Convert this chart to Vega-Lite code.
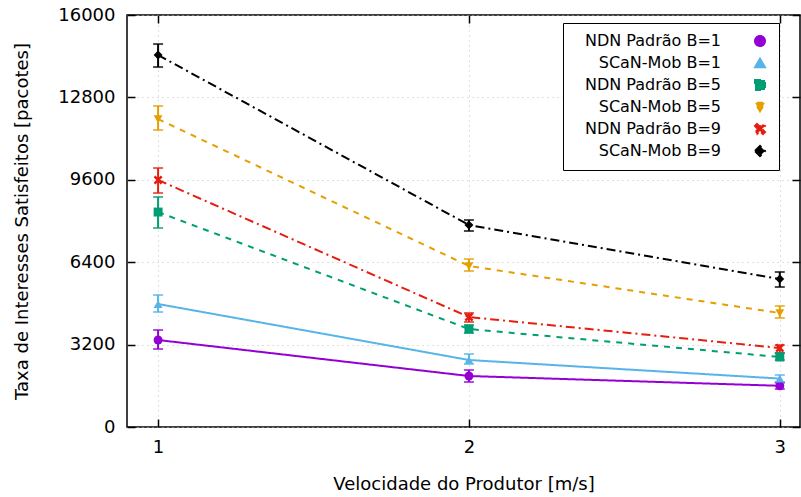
{
  "$schema": "https://vega.github.io/schema/vega-lite/v6.json",
  "width": 673,
  "height": 412,
  "autosize": "none",
  "padding": {"left": 127, "top": 15, "right": 1, "bottom": 70},
  "config": {
    "font": "DejaVu Sans",
    "view": {"stroke": "black", "strokeWidth": 1.5},
    "axis": {
      "labelFont": "DejaVu Sans",
      "titleFont": "DejaVu Sans",
      "labelFontSize": 18,
      "titleFontSize": 18,
      "titleFontWeight": "normal",
      "labelColor": "black",
      "titleColor": "black",
      "domain": false,
      "tickColor": "black",
      "tickWidth": 1.5,
      "tickSize": -8,
      "gridColor": "#c0c0c0",
      "gridDash": [1, 4],
      "gridWidth": 1
    }
  },
  "resolve": {"axis": {"x": "independent", "y": "independent"}},
  "data": {
    "values": [
      {"v": 1, "series": "NDN Padrão B=1", "y": 3378, "lo": 3029, "hi": 3767},
      {"v": 2, "series": "NDN Padrão B=1", "y": 1980, "lo": 1747, "hi": 2213},
      {"v": 3, "series": "NDN Padrão B=1", "y": 1600, "lo": 1476, "hi": 1720},
      {"v": 1, "series": "SCaN-Mob B=1", "y": 4776, "lo": 4465, "hi": 5126},
      {"v": 2, "series": "SCaN-Mob B=1", "y": 2602, "lo": 2446, "hi": 2835},
      {"v": 3, "series": "SCaN-Mob B=1", "y": 1880, "lo": 1747, "hi": 2019},
      {"v": 1, "series": "NDN Padrão B=5", "y": 8348, "lo": 7727, "hi": 8931},
      {"v": 2, "series": "NDN Padrão B=5", "y": 3805, "lo": 3650, "hi": 3961},
      {"v": 3, "series": "NDN Padrão B=5", "y": 2718, "lo": 2602, "hi": 2873},
      {"v": 1, "series": "SCaN-Mob B=5", "y": 11960, "lo": 11533, "hi": 12465},
      {"v": 2, "series": "SCaN-Mob B=5", "y": 6252, "lo": 6057, "hi": 6523},
      {"v": 3, "series": "SCaN-Mob B=5", "y": 4427, "lo": 4233, "hi": 4698},
      {"v": 1, "series": "NDN Padrão B=9", "y": 9591, "lo": 9086, "hi": 10057},
      {"v": 2, "series": "NDN Padrão B=9", "y": 4271, "lo": 4077, "hi": 4427},
      {"v": 3, "series": "NDN Padrão B=9", "y": 3068, "lo": 2873, "hi": 3184},
      {"v": 1, "series": "SCaN-Mob B=9", "y": 14445, "lo": 13979, "hi": 14872},
      {"v": 2, "series": "SCaN-Mob B=9", "y": 7844, "lo": 7611, "hi": 8038},
      {"v": 3, "series": "SCaN-Mob B=9", "y": 5747, "lo": 5436, "hi": 6019}
    ]
  },
  "encoding": {
    "color": {"field": "series", "type": "nominal",
      "scale": {"domain": ["NDN Padrão B=1", "SCaN-Mob B=1", "NDN Padrão B=5", "SCaN-Mob B=5", "NDN Padrão B=9", "SCaN-Mob B=9"],
        "range": ["#9400d3", "#56b4e9", "#009e73", "#e69f00", "#e51e10", "#000000"]},
      "legend": {"title": null, "orient": "none", "legendX": 436, "legendY": 8, "symbolSize": 100, "symbolStrokeWidth": 2,
        "labelAlign": "right", "labelOffset": -47, "symbolOffset": 179, "labelFontSize": 16, "labelFont": "DejaVu Sans", "labelColor": "black",
        "rowPadding": 4, "padding": 10, "strokeColor": "black", "fillColor": "white", "cornerRadius": 0,
        "encode": {"symbols": {"update": {
          "fill": {"scale": "color", "field": "value"},
          "stroke": {"scale": "color", "field": "value"},
          "fillOpacity": {"value": 1},
          "strokeOpacity": {"value": 1},
          "opacity": {"value": 1},
          "strokeWidth": {"value": 2},
          "shape": {"signal": "datum.value == 'NDN Padrão B=1' ? 'M-5.6,-0.2H5.6V0.2H-5.6ZM-1,0A1,1,0,1,1,1,0A1,1,0,1,1,-1,0Z' : datum.value == 'SCaN-Mob B=1' ? 'M-5.6,-0.2H5.6V0.2H-5.6ZM0,-1.2L1.1,0.8L-1.1,0.8Z' : datum.value == 'NDN Padrão B=5' ? 'M-5.4,-0.2H-4.2V0.2H-5.4ZM-3,-0.2H-1.8V0.2H-3ZM-0.6,-0.2H0.6V0.2H-0.6ZM1.8,-0.2H3V0.2H1.8ZM4.2,-0.2H5.4V0.2H4.2ZM-0.9,-0.9H0.9V0.9H-0.9Z' : datum.value == 'SCaN-Mob B=5' ? 'M-5.4,-0.2H-4.2V0.2H-5.4ZM-3,-0.2H-1.8V0.2H-3ZM-0.6,-0.2H0.6V0.2H-0.6ZM1.8,-0.2H3V0.2H1.8ZM4.2,-0.2H5.4V0.2H4.2ZM0,1.2L-1.1,-0.8L1.1,-0.8Z' : datum.value == 'NDN Padrão B=9' ? 'M-5.6,-0.2H-5.2V0.2H-5.6ZM-4.7,-0.2H-2.9V0.2H-4.7ZM-2.1,-0.2H-1.7V0.2H-2.1ZM-0.9,-0.2H0.9V0.2H-0.9ZM1.7,-0.2H2.1V0.2H1.7ZM2.9,-0.2H4.7V0.2H2.9ZM5.2,-0.2H5.6V0.2H5.2ZM-1,-0.6L-0.6,-1L0,-0.4L0.6,-1L1,-0.6L0.4,0L1,0.6L0.6,1L0,0.4L-0.6,1L-1,0.6L-0.4,0Z' : 'M-5.6,-0.2H-5.2V0.2H-5.6ZM-4.7,-0.2H-2.9V0.2H-4.7ZM-2.1,-0.2H-1.7V0.2H-2.1ZM-0.9,-0.2H0.9V0.2H-0.9ZM1.7,-0.2H2.1V0.2H1.7ZM2.9,-0.2H4.7V0.2H2.9ZM5.2,-0.2H5.6V0.2H5.2ZM0,-1.2L1.2,0L0,1.2L-1.2,0Z'"}
        }}}
      }
    }
  },
  "layer": [
    {
      "mark": {"type": "rule", "strokeWidth": 2},
      "encoding": {
        "x": {"field": "v", "type": "quantitative", "scale": {"domain": [0.9, 3.065], "nice": false, "zero": false},
          "axis": {"values": [1, 2, 3], "title": "Velocidade do Produtor [m/s]", "labelPadding": 19, "titlePadding": 19, "format": "d"}},
        "y": {"field": "lo", "type": "quantitative", "scale": {"domain": [0, 16000], "nice": false},
          "axis": {"values": [0, 3200, 6400, 9600, 12800, 16000], "format": "d", "title": "Taxa de Interesses Satisfeitos [pacotes]", "labelPadding": 20, "titlePadding": 26}},
        "y2": {"field": "hi"}
      }
    },
    {
      "mark": {"type": "tick", "orient": "horizontal", "size": 10, "thickness": 2},
      "encoding": {
        "x": {"field": "v", "type": "quantitative", "axis": {"orient": "top", "values": [1, 2, 3], "labels": false, "grid": false, "title": null}},
        "y": {"field": "lo", "type": "quantitative", "axis": {"orient": "right", "values": [0, 3200, 6400, 9600, 12800, 16000], "labels": false, "grid": false, "title": null}}
      }
    },
    {
      "mark": {"type": "tick", "orient": "horizontal", "size": 10, "thickness": 2},
      "encoding": {
        "x": {"field": "v", "type": "quantitative", "axis": null},
        "y": {"field": "hi", "type": "quantitative", "axis": null}
      }
    },
    {
      "mark": {"type": "line", "strokeWidth": 2},
      "encoding": {
        "x": {"field": "v", "type": "quantitative", "axis": null},
        "y": {"field": "y", "type": "quantitative", "axis": null},
        "strokeDash": {"field": "series", "type": "nominal",
          "scale": {"domain": ["NDN Padrão B=1", "SCaN-Mob B=1", "NDN Padrão B=5", "SCaN-Mob B=5", "NDN Padrão B=9", "SCaN-Mob B=9"],
            "range": [[1, 0], [1, 0], [6, 6], [6, 6], [9, 4, 2, 4], [9, 4, 2, 4]]}}
      }
    },
    {
      "mark": {"type": "point", "filled": true, "size": 80, "opacity": 1},
      "encoding": {
        "x": {"field": "v", "type": "quantitative", "axis": null},
        "y": {"field": "y", "type": "quantitative", "axis": null},
        "shape": {"field": "series", "type": "nominal", "legend": null,
          "scale": {"domain": ["NDN Padrão B=1", "SCaN-Mob B=1", "NDN Padrão B=5", "SCaN-Mob B=5", "NDN Padrão B=9", "SCaN-Mob B=9"],
            "range": ["circle", "triangle-up", "square", "triangle-down", "M-1,-0.6L-0.6,-1L0,-0.4L0.6,-1L1,-0.6L0.4,0L1,0.6L0.6,1L0,0.4L-0.6,1L-1,0.6L-0.4,0Z", "diamond"]}}
      }
    }
  ]
}
